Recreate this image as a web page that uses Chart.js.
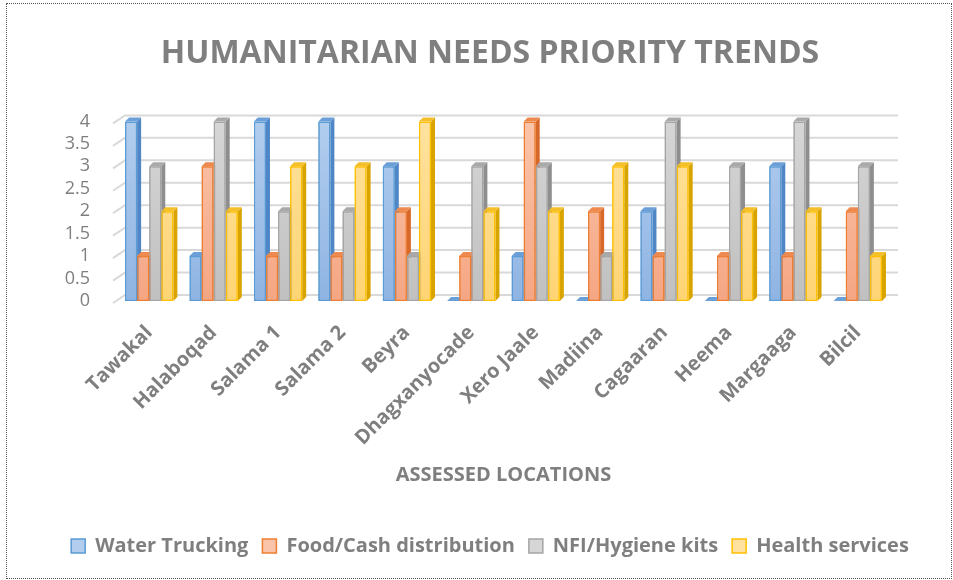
<!DOCTYPE html>
<html>
<head>
<meta charset="utf-8">
<script src="https://cdn.jsdelivr.net/npm/chart.js@4/dist/chart.umd.min.js"></script>
<style>
  html, body { margin: 0; padding: 0; background: #fff; }
  #wrap { position: relative; width: 953px; height: 580px; }
  #frame { position: absolute; left: 6px; top: 3px; width: 944px; height: 574px; border: 1px dotted #555; pointer-events: none; }
</style>
</head>
<body>
<div id="wrap">
  <canvas id="barChart" width="953" height="580"></canvas>
  <div id="frame"></div>
</div>
<script>
// data
var locations = ['Tawakal', 'Halaboqad', 'Salama 1', 'Salama 2', 'Beyra', 'Dhagxanyocade',
  'Xero Jaale', 'Madiina', 'Cagaaran', 'Heema', 'Margaaga', 'Bilcil'];
var waterTrucking = [4, 1, 4, 4, 3, 0, 1, 0, 2, 0, 3, 0];
var foodCash      = [1, 3, 1, 1, 2, 1, 4, 2, 1, 1, 1, 2];
var nfiHygiene    = [3, 4, 2, 2, 1, 3, 3, 1, 4, 3, 4, 3];
var healthServ    = [2, 2, 3, 3, 4, 2, 2, 3, 3, 2, 2, 1];
var seriesNames = ['Water Trucking', 'Food/Cash distribution', 'NFI/Hygiene kits', 'Health services'];
var yTicks = [0, 0.5, 1, 1.5, 2, 2.5, 3, 3.5, 4];

var topFill  = ['#b2cdee', '#fac4aa', '#d6d6d6', '#ffe29f'];
var lowFill  = ['#8fb4e3', '#f5a683', '#c0c0c0', '#ffd473'];
var edge     = ['#5b9bd5', '#ed7d31', '#a5a5a5', '#ffc000'];
var sideFill = ['#4f86c6', '#d8682a', '#8e8e8e', '#d9a300'];
var capFill  = ['#6a9fd8', '#ee8a4f', '#a9a9a9', '#f5bf2a'];
var textGray = '#7f7f7f';

function grad(i) {
  return function (c) {
    var ca = c.chart.chartArea;
    if (!ca) return lowFill[i];
    var g = c.chart.ctx.createLinearGradient(0, ca.top, 0, ca.bottom);
    g.addColorStop(0, topFill[i]);
    g.addColorStop(1, lowFill[i]);
    return g;
  };
}

var allSeries = [waterTrucking, foodCash, nfiHygiene, healthServ];
var datasets = allSeries.map(function (vals, i) {
  return {
    label: seriesNames[i],
    data: vals,
    backgroundColor: grad(i),
    borderColor: edge[i],
    borderWidth: 1.5,
    borderSkipped: false,
    barPercentage: 1,
    categoryPercentage: 0.75
  };
});

// back gridlines with the little perspective kink on the left
var gridPlugin = {
  id: 'backGrid',
  beforeDatasetsDraw: function (chart) {
    var ctx = chart.ctx, ca = chart.chartArea, ys = chart.scales.y;
    ctx.save();
    ctx.strokeStyle = '#d9d9d9';
    ctx.lineWidth = 2;
    yTicks.forEach(function (v) {
      var yf = ys.getPixelForValue(v);
      ctx.beginPath();
      ctx.moveTo(ca.left - 4, yf + 2);
      ctx.lineTo(ca.left + 8, yf - 6);
      ctx.lineTo(ca.right + 8, yf - 6);
      ctx.stroke();
    });
    ctx.restore();
  }
};

// fake 3d: side + top faces, then the front again
var depthPlugin = {
  id: 'depth3d',
  afterDatasetsDraw: function (chart) {
    var ctx = chart.ctx, d = 4;
    ctx.save();
    chart.data.datasets.forEach(function (ds, i) {
      var meta = chart.getDatasetMeta(i);
      meta.data.forEach(function (bar) {
        var p = bar.getProps(['x', 'y', 'base', 'width'], true);
        var l = p.x - p.width / 2, r = p.x + p.width / 2;
        ctx.fillStyle = sideFill[i];
        ctx.beginPath();
        ctx.moveTo(r, p.y);
        ctx.lineTo(r + d, p.y - d);
        ctx.lineTo(r + d, p.base - d);
        ctx.lineTo(r, p.base);
        ctx.closePath();
        ctx.fill();
        ctx.fillStyle = capFill[i];
        ctx.beginPath();
        ctx.moveTo(l, p.y);
        ctx.lineTo(l + d, p.y - d);
        ctx.lineTo(r + d, p.y - d);
        ctx.lineTo(r, p.y);
        ctx.closePath();
        ctx.fill();
        bar.draw(ctx);
      });
    });
    ctx.restore();
  }
};

var ctxB = document.getElementById('barChart').getContext('2d');
var myBarChart = new Chart(ctxB, {
  type: 'bar',
  data: { labels: locations, datasets: datasets },
  plugins: [gridPlugin, depthPlugin],
  options: {
    responsive: false,
    animation: false,
    layout: { padding: { left: 30, right: 3, top: 0, bottom: 14 } },
    plugins: {
      title: {
        display: true,
        text: 'HUMANITARIAN NEEDS PRIORITY TRENDS',
        color: textGray,
        font: { family: 'Open Sans', size: 32, weight: 'bold' },
        padding: { top: 35, bottom: 48 }
      },
      legend: {
        position: 'bottom',
        labels: {
          color: textGray,
          font: { family: 'Open Sans', size: 20, weight: 'bold' },
          boxWidth: 14,
          boxHeight: 14,
          padding: 14,
          generateLabels: function (chart) {
            return seriesNames.map(function (n, i) {
              return { text: n, fillStyle: topFill[i], strokeStyle: edge[i], lineWidth: 1.5, datasetIndex: i, hidden: false, fontColor: textGray };
            });
          }
        }
      },
      tooltip: { enabled: false }
    },
    scales: {
      x: {
        grid: { display: false, drawTicks: false },
        border: { display: false },
        ticks: {
          autoSkip: false,
          maxRotation: 45,
          minRotation: 45,
          padding: 20,
          color: textGray,
          font: { family: 'Open Sans', size: 20, weight: 'bold' }
        },
        title: {
          display: true,
          text: 'ASSESSED LOCATIONS',
          color: textGray,
          font: { family: 'Open Sans', size: 20, weight: 'bold' },
          padding: { top: 0, bottom: 35 }
        },
        afterFit: function (scale) { scale.height = 221; }
      },
      y: {
        min: 0,
        max: 4,
        grid: { display: false, drawTicks: false },
        border: { display: false },
        ticks: {
          stepSize: 0.5,
          autoSkip: false,
          padding: 27,
          color: textGray,
          font: { family: 'Open Sans', size: 18 },
          callback: function (v) { return String(v); }
        },
        afterFit: function (scale) { scale.width = 87; }
      },
      // empty right axis, only keeps the plot clear of the right edge
      yRight: {
        position: 'right',
        min: 0,
        max: 4,
        grid: { display: false, drawTicks: false },
        border: { display: false },
        ticks: { display: false },
        afterFit: function (scale) { scale.width = 60; }
      }
    }
  }
});
</script>
</body>
</html>
